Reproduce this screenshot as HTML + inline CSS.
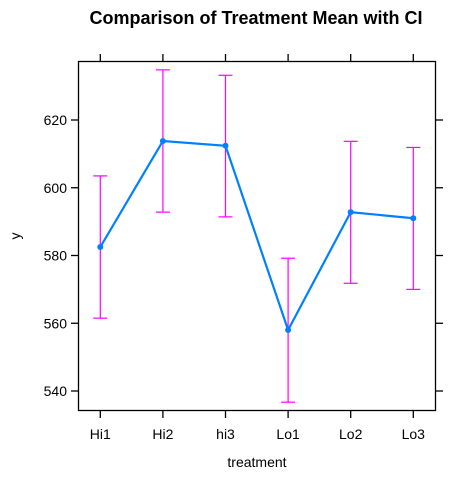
<!DOCTYPE html>
<html><head><meta charset="utf-8"><style>
body{margin:0;background:#fff;}
svg text{font-family:"Liberation Sans",Arial,sans-serif;}
</style></head><body>
<svg id="chart" width="474" height="483" xmlns="http://www.w3.org/2000/svg">
<text x="256" y="24" text-anchor="middle" font-size="18" font-weight="bold">Comparison of Treatment Mean with CI</text>
<rect x="78.5" y="61.5" width="357" height="349" fill="none" stroke="#000" stroke-width="1.3"/>
<g id="axes"></g>
<g id="marks"></g>
<text x="257" y="467" text-anchor="middle" font-size="14">treatment</text>
<text x="20" y="236" text-anchor="middle" font-size="14" transform="rotate(-90 20 236)">y</text>
</svg>
<script>
const categories=["Hi1","Hi2","hi3","Lo1","Lo2","Lo3"];
const means=[582.5,613.8,612.4,558,592.8,591];
const lower=[561.5,592.8,591.4,536.7,571.8,570];
const upper=[603.5,634.8,633.2,579.2,613.7,611.9];
const yTicks=[540,560,580,600,620];
const NS="http://www.w3.org/2000/svg";
function x(i){return 100.3+i*62.6;}
function y(v){return 120+(620-v)*3.3875;}
function mk(tag,attrs,parent){const e=document.createElementNS(NS,tag);for(const k in attrs)e.setAttribute(k,attrs[k]);parent.appendChild(e);return e;}
const axes=document.getElementById('axes'),marks=document.getElementById('marks');
categories.forEach((c,i)=>{
  let t=mk('line',{x1:x(i),x2:x(i),y1:410.5,y2:418,stroke:'#000','stroke-width':1.3},axes);
  
  
  t=mk('line',{x1:x(i),x2:x(i),y1:54,y2:61.5,stroke:'#000','stroke-width':1.3},axes);
  
  
  const l=mk('text',{x:x(i),y:439,'text-anchor':'middle','font-size':14},axes);l.textContent=c;
  
  
});
yTicks.forEach(v=>{
  let t=mk('line',{x1:71,x2:78.5,y1:y(v),y2:y(v),stroke:'#000','stroke-width':1.3},axes);
  
  
  t=mk('line',{x1:435.5,x2:443,y1:y(v),y2:y(v),stroke:'#000','stroke-width':1.3},axes);
  
  
  const l=mk('text',{x:67,y:y(v)+5,'text-anchor':'end','font-size':14},axes);l.textContent=v;
  
  
});
categories.forEach((c,i)=>{
  const g=mk('g',{stroke:'#ff00ff','stroke-width':1.2},marks);
  
  
  mk('line',{x1:x(i),x2:x(i),y1:y(upper[i]),y2:y(lower[i])},g);
  mk('line',{x1:x(i)-7,x2:x(i)+7,y1:y(upper[i]),y2:y(upper[i])},g);
  mk('line',{x1:x(i)-7,x2:x(i)+7,y1:y(lower[i]),y2:y(lower[i])},g);
});
const p=mk('polyline',{points:means.map((m,i)=>x(i)+','+y(m)).join(' '),fill:'none',stroke:'#0080ff','stroke-width':2.2},marks);


means.forEach((m,i)=>{
  const c=mk('circle',{cx:x(i),cy:y(m),r:3,fill:'#0080ff'},marks);
  
  
});
</script>
</body></html>
